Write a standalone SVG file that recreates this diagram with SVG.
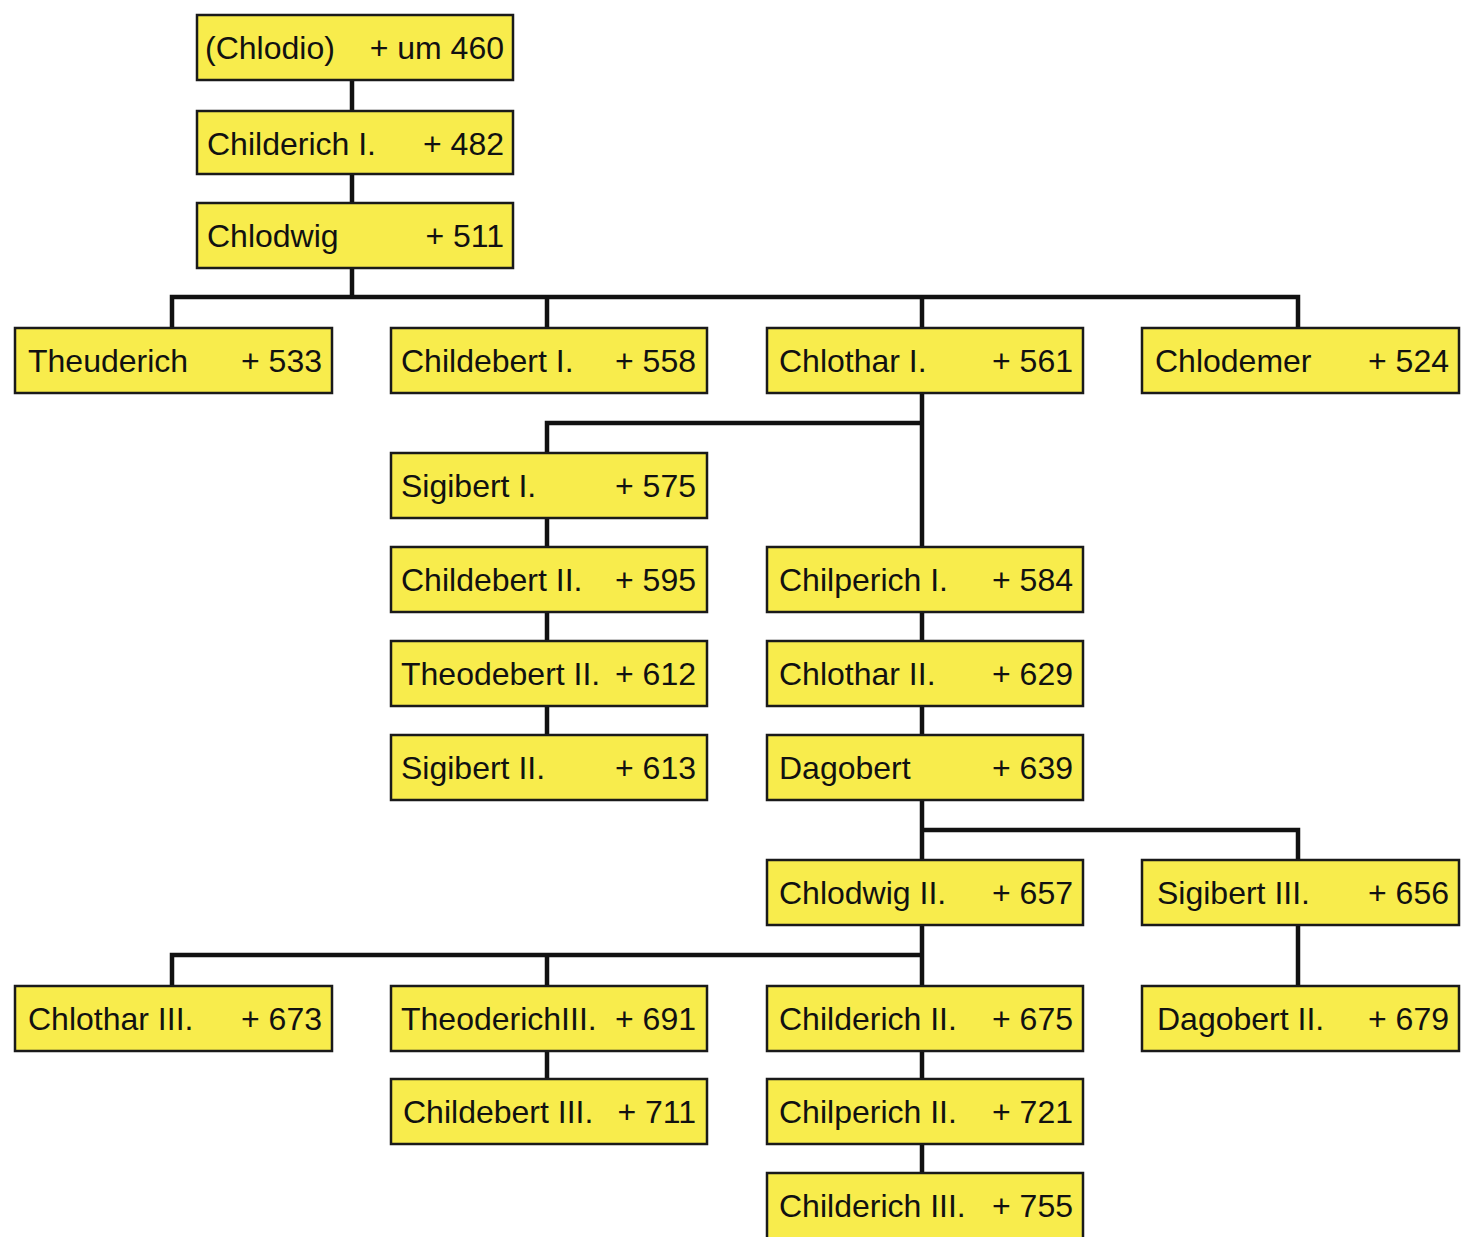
<svg xmlns="http://www.w3.org/2000/svg" width="1462" height="1237" viewBox="0 0 1462 1237">
<style>
.box{fill:#f8ec4c;stroke:#1a1a1a;stroke-width:2.5}
.n{font-family:"Liberation Sans",Arial,sans-serif;font-size:32px;fill:#111}
.d{font-family:"Liberation Sans",Arial,sans-serif;font-size:32px;fill:#111;text-anchor:end}
.c{stroke:#111;stroke-width:4.5;fill:none}
</style>
<rect width="1462" height="1237" fill="#ffffff"/>
<g id="connectors">
<path class="c" d="M352 80V111M352 174V203M352 268V297"/>
<path class="c" d="M172 328V297H1298V328M547 297V328M922 297V328"/>
<path class="c" d="M922 393V547M922 423H547V453"/>
<path class="c" d="M547 518V547M547 612V641M547 706V735"/>
<path class="c" d="M922 612V641M922 706V735"/>
<path class="c" d="M922 800V860M922 830H1298V860"/>
<path class="c" d="M922 925V986M922 955H172V986M547 955V986"/>
<path class="c" d="M1298 925V986"/>
<path class="c" d="M547 1051V1079M922 1051V1079M922 1144V1173"/>
</g>
<g id="chlodio"><rect class="box" x="197" y="15" width="316" height="65"/><text class="n" x="205" y="59">(Chlodio)</text><text class="d" x="504" y="59">+ um 460</text></g>
<g id="childerich1"><rect class="box" x="197" y="111" width="316" height="63"/><text class="n" x="207" y="155">Childerich I.</text><text class="d" x="504" y="155">+ 482</text></g>
<g id="chlodwig"><rect class="box" x="197" y="203" width="316" height="65"/><text class="n" x="207" y="247">Chlodwig</text><text class="d" x="504" y="247">+ 511</text></g>
<g id="theuderich"><rect class="box" x="15" y="328" width="317" height="65"/><text class="n" x="28" y="372">Theuderich</text><text class="d" x="322" y="372">+ 533</text></g>
<g id="childebert1"><rect class="box" x="391" y="328" width="316" height="65"/><text class="n" x="401" y="372">Childebert I.</text><text class="d" x="696" y="372">+ 558</text></g>
<g id="chlothar1"><rect class="box" x="767" y="328" width="316" height="65"/><text class="n" x="779" y="372">Chlothar I.</text><text class="d" x="1073" y="372">+ 561</text></g>
<g id="chlodemer"><rect class="box" x="1142" y="328" width="317" height="65"/><text class="n" x="1155" y="372">Chlodemer</text><text class="d" x="1449" y="372">+ 524</text></g>
<g id="sigibert1"><rect class="box" x="391" y="453" width="316" height="65"/><text class="n" x="401" y="497">Sigibert I.</text><text class="d" x="696" y="497">+ 575</text></g>
<g id="childebert2"><rect class="box" x="391" y="547" width="316" height="65"/><text class="n" x="401" y="591">Childebert II.</text><text class="d" x="696" y="591">+ 595</text></g>
<g id="theodebert2"><rect class="box" x="391" y="641" width="316" height="65"/><text class="n" x="401" y="685">Theodebert II.</text><text class="d" x="696" y="685">+ 612</text></g>
<g id="sigibert2"><rect class="box" x="391" y="735" width="316" height="65"/><text class="n" x="401" y="779">Sigibert II.</text><text class="d" x="696" y="779">+ 613</text></g>
<g id="chilperich1"><rect class="box" x="767" y="547" width="316" height="65"/><text class="n" x="779" y="591">Chilperich I.</text><text class="d" x="1073" y="591">+ 584</text></g>
<g id="chlothar2"><rect class="box" x="767" y="641" width="316" height="65"/><text class="n" x="779" y="685">Chlothar II.</text><text class="d" x="1073" y="685">+ 629</text></g>
<g id="dagobert"><rect class="box" x="767" y="735" width="316" height="65"/><text class="n" x="779" y="779">Dagobert</text><text class="d" x="1073" y="779">+ 639</text></g>
<g id="chlodwig2"><rect class="box" x="767" y="860" width="316" height="65"/><text class="n" x="779" y="904">Chlodwig II.</text><text class="d" x="1073" y="904">+ 657</text></g>
<g id="sigibert3"><rect class="box" x="1142" y="860" width="317" height="65"/><text class="n" x="1157" y="904">Sigibert III.</text><text class="d" x="1449" y="904">+ 656</text></g>
<g id="chlothar3"><rect class="box" x="15" y="986" width="317" height="65"/><text class="n" x="28" y="1030">Chlothar III.</text><text class="d" x="322" y="1030">+ 673</text></g>
<g id="theoderich3"><rect class="box" x="391" y="986" width="316" height="65"/><text class="n" x="401" y="1030">TheoderichIII.</text><text class="d" x="696" y="1030">+ 691</text></g>
<g id="childerich2"><rect class="box" x="767" y="986" width="316" height="65"/><text class="n" x="779" y="1030">Childerich II.</text><text class="d" x="1073" y="1030">+ 675</text></g>
<g id="dagobert2"><rect class="box" x="1142" y="986" width="317" height="65"/><text class="n" x="1157" y="1030">Dagobert II.</text><text class="d" x="1449" y="1030">+ 679</text></g>
<g id="childebert3"><rect class="box" x="391" y="1079" width="316" height="65"/><text class="n" x="403" y="1123">Childebert III.</text><text class="d" x="696" y="1123">+ 711</text></g>
<g id="chilperich2"><rect class="box" x="767" y="1079" width="316" height="65"/><text class="n" x="779" y="1123">Chilperich II.</text><text class="d" x="1073" y="1123">+ 721</text></g>
<g id="childerich3"><rect class="box" x="767" y="1173" width="316" height="66"/><text class="n" x="779" y="1217">Childerich III.</text><text class="d" x="1073" y="1217">+ 755</text></g>
</svg>
